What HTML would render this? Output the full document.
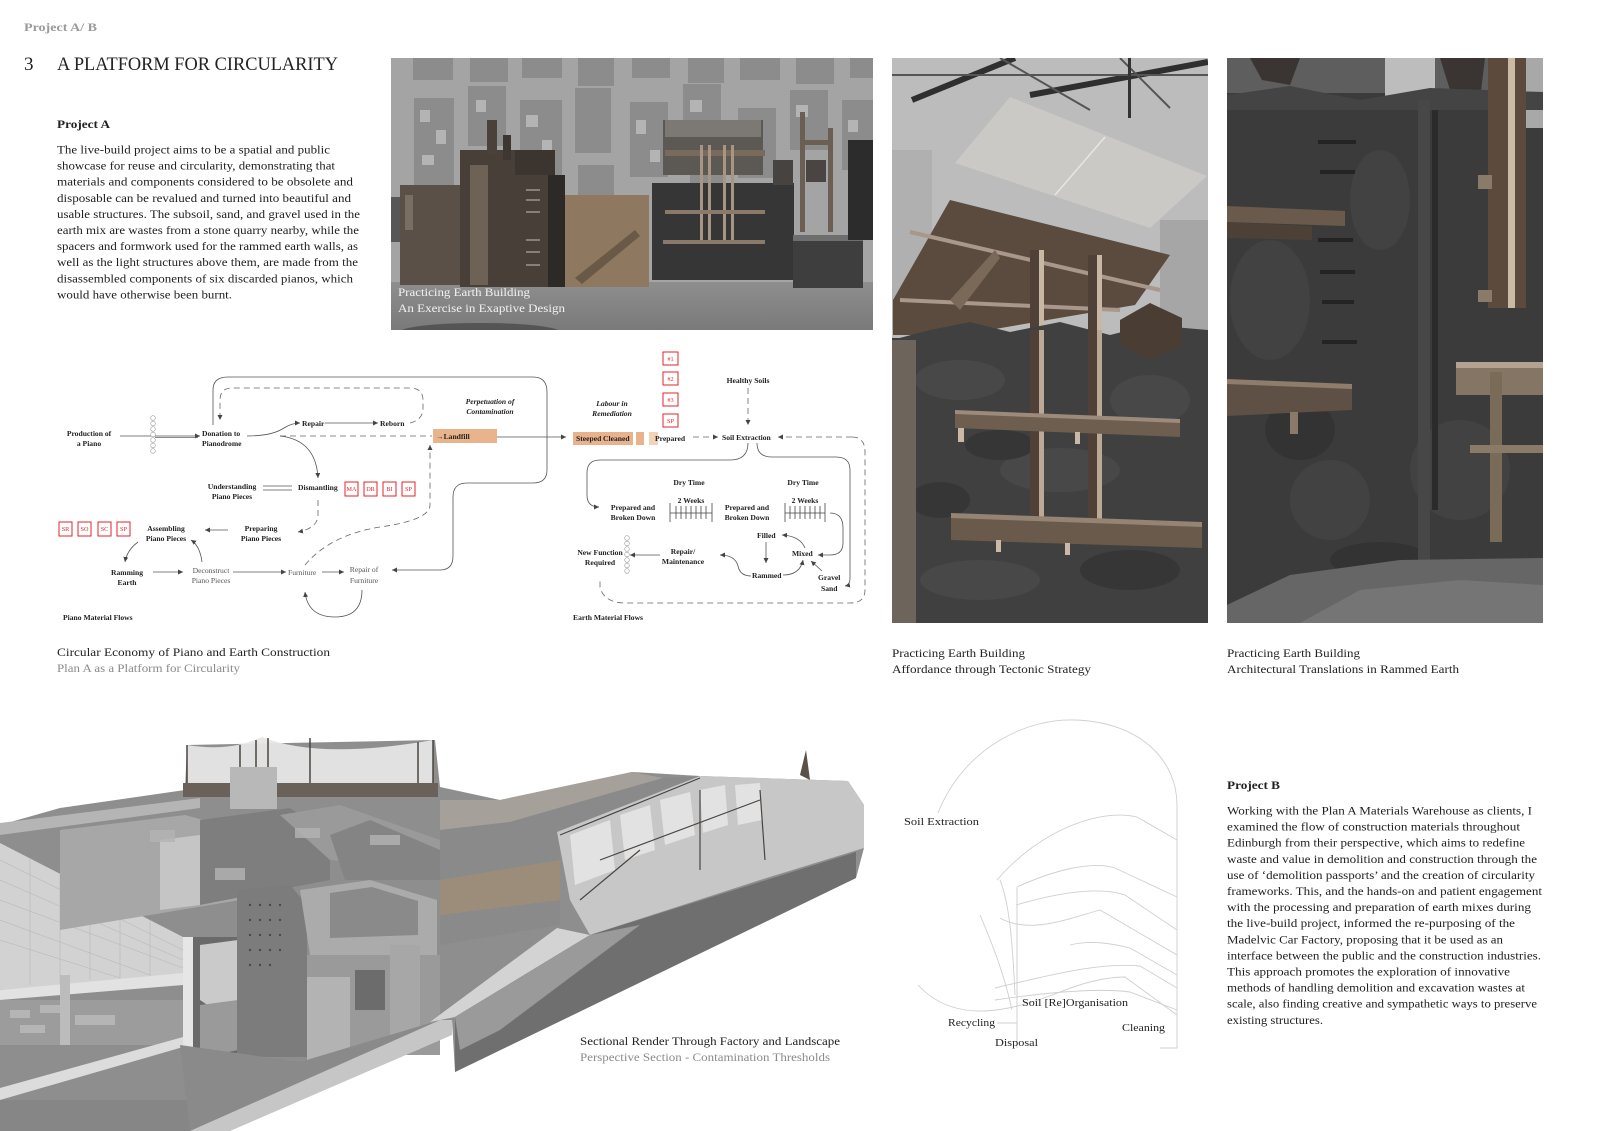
<!DOCTYPE html>
<html><head><meta charset="utf-8"><style>
html,body{margin:0;padding:0;background:#fff;}
svg{display:block;}
text{font-family:"Liberation Serif",serif;}
.b{fill:#1e1e1e;font-size:11.5px;}
.d{font-size:7.6px;font-weight:bold;fill:#222;}
.dg{font-size:7.6px;fill:#555;}
.di{font-size:7.6px;font-style:italic;font-weight:bold;fill:#222;}
.r{font-size:6.2px;fill:#e0262b;}
.ln{fill:none;stroke:#555;stroke-width:0.8;}
.dl{fill:none;stroke:#666;stroke-width:0.8;stroke-dasharray:6 4;}
.rb{fill:#fff;stroke:#e0262b;stroke-width:1;}
.lg{fill:none;stroke:#cfcfcf;stroke-width:0.9;}
.cap{font-size:12px;fill:#222;}
.capg{font-size:12px;fill:#8a8a8a;}
</style></head><body>
<svg width="1600" height="1131" viewBox="0 0 1600 1131" xmlns="http://www.w3.org/2000/svg">
<defs>
<marker id="a" markerWidth="5" markerHeight="5" refX="5" refY="2.5" orient="auto" markerUnits="userSpaceOnUse"><path d="M0,0 L5,2.5 L0,5 z" fill="#444"/></marker>
<linearGradient id="fl" x1="0" y1="0" x2="0" y2="1"><stop offset="0" stop-color="#8e8e8e"/><stop offset="1" stop-color="#7a7a7a"/></linearGradient>
<clipPath id="c1"><rect x="391" y="58" width="482" height="272"/></clipPath>
<clipPath id="c2"><rect x="892" y="58" width="316" height="565"/></clipPath>
<clipPath id="c3"><rect x="1227" y="58" width="316" height="565"/></clipPath>
</defs>

<!-- HEADER -->
<text x="24" y="31" font-size="11.5" font-weight="bold" fill="#9a9a9a" textLength="73" lengthAdjust="spacingAndGlyphs">Project A/ B</text>
<text x="24" y="70" font-size="19" fill="#222">3</text>
<text x="57" y="70" font-size="19" fill="#222" textLength="281" lengthAdjust="spacingAndGlyphs">A PLATFORM FOR CIRCULARITY</text>

<text x="57" y="128" font-size="12" font-weight="bold" fill="#222" textLength="53" lengthAdjust="spacingAndGlyphs">Project A</text>
<g class="b">
<text x="57" y="153.5" textLength="273" lengthAdjust="spacingAndGlyphs">The live-build project aims to be a spatial and public</text>
<text x="57" y="169.6" textLength="278" lengthAdjust="spacingAndGlyphs">showcase for reuse and circularity, demonstrating that</text>
<text x="57" y="185.7" textLength="296" lengthAdjust="spacingAndGlyphs">materials and components considered to be obsolete and</text>
<text x="57" y="201.8" textLength="294" lengthAdjust="spacingAndGlyphs">disposable can be revalued and turned into beautiful and</text>
<text x="57" y="217.9" textLength="303" lengthAdjust="spacingAndGlyphs">usable structures. The subsoil, sand, and gravel used in the</text>
<text x="57" y="234" textLength="302" lengthAdjust="spacingAndGlyphs">earth mix are wastes from a stone quarry nearby, while the</text>
<text x="57" y="250.1" textLength="301" lengthAdjust="spacingAndGlyphs">spacers and formwork used for the rammed earth walls, as</text>
<text x="57" y="266.2" textLength="301" lengthAdjust="spacingAndGlyphs">well as the light structures above them, are made from the</text>
<text x="57" y="282.3" textLength="296" lengthAdjust="spacingAndGlyphs">disassembled components of six discarded pianos, which</text>
<text x="57" y="298.4" textLength="175" lengthAdjust="spacingAndGlyphs">would have otherwise been burnt.</text>
</g>

<!-- PHOTO 1 -->
<g clip-path="url(#c1)">
<rect x="391" y="58" width="482" height="272" fill="#a4a4a4"/>
<g fill="#8c8c8c">
<rect x="413" y="58" width="40" height="22"/><rect x="470" y="58" width="38" height="24"/><rect x="522" y="58" width="40" height="20"/><rect x="578" y="58" width="36" height="28"/><rect x="632" y="58" width="38" height="20"/><rect x="688" y="58" width="36" height="25"/><rect x="740" y="58" width="40" height="22"/><rect x="796" y="58" width="38" height="26"/><rect x="850" y="58" width="23" height="20"/>
<rect x="414" y="98" width="40" height="92"/><rect x="468" y="86" width="38" height="60"/><rect x="520" y="100" width="42" height="80"/><rect x="575" y="88" width="36" height="65"/><rect x="630" y="102" width="38" height="75"/><rect x="683" y="84" width="38" height="62"/><rect x="738" y="108" width="38" height="70"/><rect x="790" y="90" width="38" height="60"/><rect x="842" y="100" width="31" height="70"/>
<rect x="470" y="158" width="40" height="45"/><rect x="578" y="165" width="36" height="35"/><rect x="690" y="160" width="36" height="35"/>
</g>
<g fill="#b4b4b4">
<rect x="420" y="110" width="10" height="12"/><rect x="436" y="130" width="10" height="14"/><rect x="422" y="155" width="12" height="10"/><rect x="526" y="115" width="12" height="12"/><rect x="542" y="140" width="10" height="12"/><rect x="636" y="120" width="10" height="14"/><rect x="650" y="150" width="10" height="12"/><rect x="476" y="100" width="10" height="12"/><rect x="690" y="100" width="12" height="12"/><rect x="796" y="105" width="12" height="12"/><rect x="745" y="125" width="12" height="12"/><rect x="848" y="120" width="10" height="12"/>
</g>
<rect x="391" y="197" width="80" height="45" fill="#575757"/>
<rect x="391" y="282" width="482" height="48" fill="url(#fl)"/>
<ellipse cx="480" cy="332" rx="80" ry="9" fill="#555"/>
<rect x="400" y="185" width="60" height="100" fill="#5a5048"/>
<rect x="405" y="195" width="8" height="35" fill="#7a6e62"/>
<rect x="460" y="150" width="90" height="137" fill="#473f38"/>
<rect x="470" y="165" width="18" height="120" fill="#6e6256"/>
<rect x="487" y="120" width="10" height="35" fill="#4a413a"/><rect x="503" y="135" width="8" height="25" fill="#3e3630"/><rect x="515" y="150" width="40" height="25" fill="#3b342f"/>
<g stroke="#c9c0b5" stroke-width="1"><line x1="526" y1="190" x2="540" y2="190"/><line x1="526" y1="200" x2="540" y2="200"/><line x1="526" y1="212" x2="540" y2="212"/><line x1="526" y1="240" x2="540" y2="240"/><line x1="526" y1="252" x2="540" y2="252"/><line x1="526" y1="265" x2="540" y2="265"/></g>
<rect x="548" y="175" width="17" height="112" fill="#2d2926"/>
<rect x="565" y="195" width="84" height="92" fill="#8e7860"/>
<path d="M575,278 L635,230 L640,236 L582,284 z" fill="#6b5947"/>
<rect x="652" y="183" width="142" height="97" fill="#363636"/>
<rect x="663" y="120" width="100" height="55" fill="#5c5854"/>
<rect x="665" y="120" width="96" height="17" fill="#7c7874"/>
<rect x="665" y="150" width="100" height="6" fill="#7a6a5c"/>
<g fill="#a99682"><rect x="700" y="145" width="3" height="97"/><rect x="708" y="145" width="3" height="97"/><rect x="723" y="145" width="3" height="97"/><rect x="731" y="145" width="3" height="97"/></g>
<rect x="665" y="210" width="100" height="4" fill="#8a7a6a"/>
<rect x="663" y="240" width="102" height="4" fill="#8a7a6a"/>
<rect x="773" y="160" width="20" height="25" fill="#474340"/>
<g fill="#6b5e52"><rect x="800" y="112" width="5" height="120"/><rect x="828" y="128" width="5" height="104"/><rect x="800" y="140" width="33" height="5"/></g>
<rect x="806" y="160" width="20" height="22" fill="#4a4542"/>
<rect x="793" y="238" width="70" height="50" fill="#3e3e3e"/>
<rect x="793" y="235" width="70" height="6" fill="#6e6e6e"/>
<rect x="848" y="140" width="25" height="100" fill="#2c2c2c"/>
<text x="398" y="296" font-size="11.5" fill="#f2f2f2" textLength="132" lengthAdjust="spacingAndGlyphs">Practicing Earth Building</text>
<text x="398" y="312" font-size="11.5" fill="#f2f2f2" textLength="167" lengthAdjust="spacingAndGlyphs">An Exercise in Exaptive Design</text>
</g>

<!-- PHOTO 2 -->
<g clip-path="url(#c2)">
<rect x="892" y="58" width="316" height="565" fill="#3e3e3e"/>
<rect x="892" y="58" width="316" height="280" fill="#bcbcbc"/>
<rect x="892" y="150" width="40" height="180" fill="#b0b0b0"/>
<g stroke="#2f2f2f" stroke-width="6"><line x1="912" y1="100" x2="1015" y2="58"/><line x1="1030" y1="95" x2="1208" y2="62"/></g>
<g stroke="#555" stroke-width="2"><line x1="892" y1="75" x2="1208" y2="75"/><line x1="1000" y1="58" x2="1090" y2="110"/><line x1="1120" y1="58" x2="1170" y2="108"/></g>
<rect x="1128" y="58" width="3" height="60" fill="#333"/>
<path d="M1010,97 L1207,176 L1150,228 L955,163 z" fill="#cbc9c5"/>
<line x1="1105" y1="137" x2="1055" y2="195" stroke="#e6e6e6" stroke-width="1.5"/>
<rect x="1160" y="220" width="48" height="110" fill="#a6a6a6"/>
<path d="M893,300 L950,200 L1170,255 L1135,305 L960,335 L893,335 z" fill="#5b4b3e"/>
<g stroke="#a8978a" stroke-width="4"><line x1="910" y1="232" x2="1160" y2="290"/><line x1="900" y1="300" x2="1120" y2="310"/></g>
<path d="M950,300 L995,250 L1000,258 L960,310 z" fill="#7a6858"/>
<g><rect x="1030" y="250" width="9" height="265" fill="#4f4137"/><rect x="1039" y="250" width="5" height="265" fill="#c7b7a4"/><rect x="1088" y="255" width="9" height="260" fill="#4f4137"/><rect x="1097" y="255" width="5" height="260" fill="#c7b7a4"/></g>
<path d="M892,340 L930,330 L970,322 L1010,332 L1060,322 L1110,335 L1150,325 L1208,330 L1208,623 L892,623 z" fill="#404040"/>
<g fill="#484848"><ellipse cx="960" cy="380" rx="45" ry="20"/><ellipse cx="1150" cy="400" rx="40" ry="25"/><ellipse cx="1060" cy="470" rx="60" ry="22"/><ellipse cx="980" cy="580" rx="60" ry="20"/></g>
<g fill="#363636"><ellipse cx="1000" cy="445" rx="35" ry="15"/><ellipse cx="1130" cy="570" rx="50" ry="20"/><ellipse cx="940" cy="500" rx="30" ry="18"/></g>
<rect x="1030" y="330" width="9" height="190" fill="#4f4137"/><rect x="1039" y="330" width="5" height="190" fill="#bba995"/>
<rect x="1088" y="330" width="9" height="190" fill="#4f4137"/><rect x="1097" y="330" width="5" height="190" fill="#bba995"/>
<path d="M1120,320 L1150,303 L1182,318 L1182,345 L1150,360 L1120,345 z" fill="#4a3d34"/>
<rect x="892" y="340" width="24" height="283" fill="#6d645b"/>
<path d="M955,412 L1180,421 L1180,437 L955,428 z" fill="#6e5e50"/>
<path d="M955,410 L1180,419 L1180,423 L955,414 z" fill="#9c8b7b"/>
<rect x="958" y="428" width="6" height="14" fill="#c9b9a6"/><rect x="1075" y="432" width="5" height="12" fill="#c9b9a6"/>
<path d="M951,515 L1202,524 L1202,548 L951,540 z" fill="#6a5a4c"/>
<path d="M951,513 L1202,522 L1202,527 L951,518 z" fill="#958474"/>
<rect x="996" y="540" width="5" height="12" fill="#c9b9a6"/><rect x="1065" y="543" width="5" height="12" fill="#c9b9a6"/>
</g>

<!-- PHOTO 3 -->
<g clip-path="url(#c3)">
<rect x="1227" y="58" width="316" height="565" fill="#3b3b3b"/>
<rect x="1227" y="58" width="316" height="35" fill="#5e5e5e"/>
<rect x="1385" y="58" width="50" height="42" fill="#bdbdbd"/>
<rect x="1525" y="58" width="18" height="70" fill="#a8a8a8"/>
<path d="M1250,58 L1300,58 L1290,85 L1262,80 z" fill="#3a3532"/>
<path d="M1440,58 L1485,58 L1480,100 L1450,90 z" fill="#3a3532"/>
<path d="M1227,95 L1290,86 L1360,100 L1430,88 L1543,92 L1543,110 L1227,110 z" fill="#444"/>
<g fill="#424242"><ellipse cx="1270" cy="300" rx="40" ry="60"/><ellipse cx="1460" cy="470" rx="50" ry="50"/><ellipse cx="1330" cy="500" rx="40" ry="40"/><ellipse cx="1380" cy="200" rx="30" ry="50"/></g>
<g fill="#333"><ellipse cx="1300" cy="430" rx="35" ry="30"/><ellipse cx="1380" cy="560" rx="50" ry="18"/></g>
<rect x="1418" y="100" width="12" height="460" fill="#474747"/>
<rect x="1432" y="110" width="6" height="400" fill="#2b2b2b"/>
<g fill="#242424"><rect x="1318" y="140" width="38" height="4"/><rect x="1320" y="170" width="35" height="4"/><rect x="1320" y="270" width="35" height="4"/><rect x="1322" y="300" width="32" height="4"/><rect x="1322" y="340" width="35" height="4"/><rect x="1318" y="238" width="35" height="4"/></g>
<rect x="1488" y="58" width="38" height="250" fill="#5c4b3d"/>
<rect x="1508" y="58" width="7" height="250" fill="#cbbba5"/>
<rect x="1478" y="175" width="14" height="14" fill="#8a7a6a"/><rect x="1478" y="290" width="14" height="12" fill="#8a7a6a"/>
<path d="M1227,206 L1345,211 L1345,226 L1227,222 z" fill="#6a5a4c"/>
<path d="M1227,222 L1312,226 L1312,240 L1227,238 z" fill="#4d4037"/>
<path d="M1227,381 L1352,386 L1352,410 L1227,416 z" fill="#5e5044"/>
<path d="M1227,379 L1352,384 L1352,389 L1227,384 z" fill="#8e7d6c"/>
<rect x="1290" y="412" width="8" height="22" fill="#8b7a69"/>
<rect x="1456" y="365" width="89" height="30" fill="#857565"/>
<rect x="1456" y="362" width="89" height="6" fill="#b3a28f"/>
<rect x="1490" y="372" width="12" height="170" fill="#7a6a58"/>
<rect x="1470" y="445" width="75" height="8" fill="#8a7a68"/>
<path d="M1227,605 L1290,575 L1400,560 L1543,558 L1543,623 L1227,623 z" fill="#666"/>
<path d="M1300,623 L1360,590 L1460,580 L1543,585 L1543,623 z" fill="#757575"/>
</g>

<!-- PHOTO CAPTIONS -->
<text class="cap" x="892" y="657" textLength="133" lengthAdjust="spacingAndGlyphs">Practicing Earth Building</text>
<text class="cap" x="892" y="673" textLength="199" lengthAdjust="spacingAndGlyphs">Affordance through Tectonic Strategy</text>
<text class="cap" x="1227" y="657" textLength="133" lengthAdjust="spacingAndGlyphs">Practicing Earth Building</text>
<text class="cap" x="1227" y="673" textLength="232" lengthAdjust="spacingAndGlyphs">Architectural Translations in Rammed Earth</text>

<!-- PIANO DIAGRAM -->
<g>
<text class="d" x="89" y="436" text-anchor="middle">Production of</text>
<text class="d" x="89" y="446" text-anchor="middle">a Piano</text>
<line class="ln" x1="120" y1="436" x2="200" y2="436" marker-end="url(#a)"/>
<line x1="155" y1="437.5" x2="198" y2="437.5" stroke="#666" stroke-width="0.8"/>
<g fill="#fff" stroke="#999" stroke-width="0.6"><circle cx="153" cy="418" r="2.3"/><circle cx="153" cy="423.5" r="2.3"/><circle cx="153" cy="429" r="2.3"/><circle cx="153" cy="434.5" r="2.3"/><circle cx="153" cy="440" r="2.3"/><circle cx="153" cy="445.5" r="2.3"/><circle cx="153" cy="451" r="2.3"/></g>
<text class="d" x="202" y="436">Donation to</text>
<text class="d" x="202" y="446">Pianodrome</text>
<path class="ln" d="M213,425 V390 Q213,377 228,377 H533 Q547,377 547,392 V470 Q547,483 533,483 H467 Q453,483 453,497 V556 Q453,570 440,570 H392" marker-end="url(#a)"/>
<path class="dl" d="M410,423 Q423,420 423,408 V400 Q423,388 410,388 H232 Q220,388 220,400 V420" marker-end="url(#a)"/>
<path class="ln" d="M247,436 Q272,436 284,428 Q292,423 300,423" marker-end="url(#a)"/>
<text class="d" x="302" y="426">Repair</text>
<line class="ln" x1="325" y1="423" x2="378" y2="423" marker-end="url(#a)"/>
<text class="d" x="380" y="426">Reborn</text>
<line class="dl" x1="280" y1="436" x2="432" y2="436"/>
<path class="ln" d="M280,436 Q316,440 318,478" marker-end="url(#a)"/>
<rect x="433" y="429" width="64" height="14" fill="#e9b48b"/>
<text class="d" x="436" y="439">→Landfill</text>
<text class="di" x="490" y="404" text-anchor="middle">Perpetuation of</text>
<text class="di" x="490" y="414" text-anchor="middle">Contamination</text>
<text class="d" x="232" y="489" text-anchor="middle">Understanding</text>
<text class="d" x="232" y="499" text-anchor="middle">Piano Pieces</text>
<line class="ln" x1="263" y1="486" x2="292" y2="486"/><line class="ln" x1="263" y1="490" x2="292" y2="490"/>
<text class="d" x="298" y="490">Dismantling</text>
<rect class="rb" x="345" y="482" width="13" height="14"/><rect class="rb" x="364" y="482" width="13" height="14"/><rect class="rb" x="383" y="482" width="13" height="14"/><rect class="rb" x="402" y="482" width="13" height="14"/>
<text class="r" x="351.5" y="491" text-anchor="middle">MA</text><text class="r" x="370.5" y="491" text-anchor="middle">DR</text><text class="r" x="389.5" y="491" text-anchor="middle">BI</text><text class="r" x="408.5" y="491" text-anchor="middle">SP</text>
<path class="dl" d="M318,500 V515 Q318,528 298,532" marker-end="url(#a)"/>
<text class="d" x="261" y="531" text-anchor="middle">Preparing</text>
<text class="d" x="261" y="541" text-anchor="middle">Piano Pieces</text>
<line class="ln" x1="228" y1="530" x2="205" y2="530" marker-end="url(#a)"/>
<text class="d" x="166" y="531" text-anchor="middle">Assembling</text>
<text class="d" x="166" y="541" text-anchor="middle">Piano Pieces</text>
<rect class="rb" x="59" y="522" width="13" height="14"/><rect class="rb" x="78" y="522" width="13" height="14"/><rect class="rb" x="98" y="522" width="13" height="14"/><rect class="rb" x="117" y="522" width="13" height="14"/>
<text class="r" x="65.5" y="531" text-anchor="middle">SR</text><text class="r" x="84.5" y="531" text-anchor="middle">SO</text><text class="r" x="104.5" y="531" text-anchor="middle">SC</text><text class="r" x="123.5" y="531" text-anchor="middle">SP</text>
<path class="ln" d="M138,542 Q127,550 125,562" marker-end="url(#a)"/>
<text class="d" x="127" y="575" text-anchor="middle">Ramming</text>
<text class="d" x="127" y="585" text-anchor="middle">Earth</text>
<line class="ln" x1="153" y1="572" x2="183" y2="572" marker-end="url(#a)"/>
<text class="dg" x="211" y="573" text-anchor="middle">Deconstruct</text>
<text class="dg" x="211" y="583" text-anchor="middle">Piano Pieces</text>
<path class="ln" d="M202,562 Q200,546 191,540" marker-end="url(#a)"/>
<line class="ln" x1="233" y1="572" x2="286" y2="572" marker-end="url(#a)"/>
<text class="dg" x="288" y="575">Furniture</text>
<line class="ln" x1="322" y1="572" x2="344" y2="572" marker-end="url(#a)"/>
<text class="dg" x="364" y="572" text-anchor="middle">Repair of</text>
<text class="dg" x="364" y="583" text-anchor="middle">Furniture</text>
<path class="ln" d="M362,590 Q362,617 335,617 Q308,617 305,592" marker-end="url(#a)"/>
<path class="dl" d="M305,565 Q330,535 380,527 Q430,520 430,505 V445" marker-end="url(#a)"/>
<text class="d" x="63" y="620">Piano Material Flows</text>
</g>

<!-- EARTH DIAGRAM -->
<g>
<line class="ln" x1="497" y1="437" x2="566" y2="437" marker-end="url(#a)"/>
<text class="di" x="612" y="406" text-anchor="middle">Labour in</text>
<text class="di" x="612" y="416" text-anchor="middle">Remediation</text>
<rect x="573" y="432" width="60" height="13" fill="#e8b38c"/>
<rect x="636" y="432" width="8" height="13" fill="#e8b38c"/>
<rect x="649" y="432" width="9" height="13" fill="#f2d3b8"/>
<text class="d" x="576" y="441">Steeped</text>
<text class="d" x="603" y="441">Cleaned</text>
<text class="d" x="655" y="441">Prepared</text>
<rect class="rb" x="663" y="352" width="15" height="13"/><rect class="rb" x="663" y="372" width="15" height="13"/><rect class="rb" x="663" y="393" width="15" height="13"/><rect class="rb" x="663" y="414" width="15" height="13"/>
<text class="r" x="670.5" y="361" text-anchor="middle">#1</text><text class="r" x="670.5" y="381" text-anchor="middle">#2</text><text class="r" x="670.5" y="402" text-anchor="middle">#3</text><text class="r" x="670.5" y="423" text-anchor="middle">SP</text>
<line class="dl" x1="693" y1="437" x2="718" y2="437" marker-end="url(#a)"/>
<text class="d" x="722" y="440">Soil Extraction</text>
<path class="dl" d="M852,437 H778" marker-end="url(#a)"/>
<path class="dl" d="M852,437 Q865,437 865,452 V590 Q865,603 850,603 H625 Q605,603 600,588 V578"/>
<text class="d" x="748" y="383" text-anchor="middle">Healthy Soils</text>
<line class="dl" x1="748" y1="388" x2="748" y2="425" marker-end="url(#a)"/>
<path class="ln" d="M748,443 Q748,460 730,460 H600 Q587,460 587,473 V495 Q587,507 599,507" marker-end="url(#a)"/>
<path class="ln" d="M757,443 Q757,457 772,457 H836 Q850,457 850,470 V578 Q850,585 845,586" marker-end="url(#a)"/>
<text class="d" x="633" y="510" text-anchor="middle">Prepared and</text>
<text class="d" x="633" y="520" text-anchor="middle">Broken Down</text>
<text class="d" x="689" y="485" text-anchor="middle">Dry Time</text>
<text class="d" x="691" y="503" text-anchor="middle">2 Weeks</text>
<g stroke="#444" stroke-width="0.8"><line x1="670" y1="513" x2="712" y2="513"/><line x1="670" y1="503" x2="670" y2="522"/><line x1="712" y1="503" x2="712" y2="522"/><line x1="676" y1="506" x2="676" y2="519"/><line x1="681" y1="506" x2="681" y2="519"/><line x1="686" y1="506" x2="686" y2="519"/><line x1="691" y1="506" x2="691" y2="519"/><line x1="696" y1="506" x2="696" y2="519"/><line x1="701" y1="506" x2="701" y2="519"/><line x1="706" y1="506" x2="706" y2="519"/></g>
<text class="d" x="747" y="510" text-anchor="middle">Prepared and</text>
<text class="d" x="747" y="520" text-anchor="middle">Broken Down</text>
<text class="d" x="803" y="485" text-anchor="middle">Dry Time</text>
<text class="d" x="805" y="503" text-anchor="middle">2 Weeks</text>
<g stroke="#444" stroke-width="0.8"><line x1="785" y1="513" x2="825" y2="513"/><line x1="785" y1="503" x2="785" y2="522"/><line x1="825" y1="503" x2="825" y2="522"/><line x1="790" y1="506" x2="790" y2="519"/><line x1="795" y1="506" x2="795" y2="519"/><line x1="800" y1="506" x2="800" y2="519"/><line x1="805" y1="506" x2="805" y2="519"/><line x1="810" y1="506" x2="810" y2="519"/><line x1="815" y1="506" x2="815" y2="519"/><line x1="820" y1="506" x2="820" y2="519"/></g>
<path class="ln" d="M830,513 Q843,513 843,528 V543 Q843,555 830,555 H818" marker-end="url(#a)"/>
<text class="d" x="792" y="556">Mixed</text>
<text class="d" x="757" y="538">Filled</text>
<path class="ln" d="M805,548 Q800,536 782,535" marker-end="url(#a)"/>
<line class="ln" x1="766" y1="542" x2="766" y2="563" marker-end="url(#a)"/>
<text class="d" x="752" y="578">Rammed</text>
<path class="ln" d="M783,575 Q800,575 803,560" marker-end="url(#a)"/>
<text class="d" x="818" y="580">Gravel</text>
<text class="d" x="821" y="591">Sand</text>
<line class="ln" x1="822" y1="571" x2="811" y2="561" marker-end="url(#a)"/>
<path class="ln" d="M751,576 Q740,576 738,566 Q735,555 720,555" marker-end="url(#a)"/>
<text class="d" x="683" y="554" text-anchor="middle">Repair/</text>
<text class="d" x="683" y="564" text-anchor="middle">Maintenance</text>
<line class="ln" x1="660" y1="555" x2="630" y2="555" marker-end="url(#a)"/>
<g fill="#fff" stroke="#999" stroke-width="0.6"><circle cx="627" cy="538" r="2.3"/><circle cx="627" cy="543.5" r="2.3"/><circle cx="627" cy="549" r="2.3"/><circle cx="627" cy="554.5" r="2.3"/><circle cx="627" cy="560" r="2.3"/><circle cx="627" cy="565.5" r="2.3"/><circle cx="627" cy="571" r="2.3"/></g>
<text class="d" x="600" y="555" text-anchor="middle">New Function</text>
<text class="d" x="600" y="565" text-anchor="middle">Required</text>
<text class="d" x="573" y="620">Earth Material Flows</text>
</g>

<text class="cap" x="57" y="656" textLength="273" lengthAdjust="spacingAndGlyphs">Circular Economy of Piano and Earth Construction</text>
<text class="capg" x="57" y="672" textLength="183" lengthAdjust="spacingAndGlyphs">Plan A as a Platform for Circularity</text>

<!-- RENDER -->
<g>
<path d="M0,825 L60,808 L185,790 L187,745 L435,740 L440,787 L500,800 L632,772 L700,776 L848,781 L864,805 L864,848 L856,878 L455,1072 L452,1020 L440,1020 L190,1131 L0,1131 z" fill="#8e8e8e"/>
<path d="M187,745 Q230,752 262,737 Q320,760 433,740 L433,788 L187,788 z" fill="#e6e6e6" opacity="0.95"/>
<g stroke="#4a4440" stroke-width="1.5"><line x1="187" y1="745" x2="187" y2="795"/><line x1="240" y1="745" x2="240" y2="785"/><line x1="256" y1="740" x2="256" y2="785"/><line x1="268" y1="738" x2="268" y2="785"/><line x1="310" y1="738" x2="310" y2="785"/><line x1="418" y1="742" x2="418" y2="785"/><line x1="433" y1="740" x2="433" y2="790"/></g>
<rect x="183" y="783" width="255" height="14" fill="#6a625a"/>
<rect x="230" y="767" width="47" height="42" fill="#b8b8b8"/>
<path d="M0,823 L200,798 L200,808 L0,835 z" fill="#b5b5b5"/>
<path d="M0,843 L183,937 L183,975 L0,990 z" fill="#d2d2d2"/>
<g stroke="#b9b9b9" stroke-width="0.6"><line x1="0" y1="860" x2="183" y2="950"/><line x1="0" y1="880" x2="183" y2="960"/><line x1="0" y1="900" x2="183" y2="968"/><line x1="0" y1="920" x2="150" y2="975"/><line x1="0" y1="940" x2="120" y2="978"/><line x1="30" y1="858" x2="30" y2="985"/><line x1="60" y1="873" x2="60" y2="983"/><line x1="90" y1="889" x2="90" y2="980"/><line x1="120" y1="904" x2="120" y2="978"/><line x1="150" y1="920" x2="150" y2="976"/></g>
<path d="M0,990 L183,973 L183,985 L0,1000 z" fill="#e2e2e2"/>
<rect x="0" y="1000" width="183" height="45" fill="#9c9c9c"/>
<g fill="#b5b5b5"><rect x="10" y="1010" width="20" height="8"/><rect x="40" y="1005" width="22" height="8"/><rect x="20" y="1025" width="25" height="8"/><rect x="75" y="1015" width="40" height="10"/></g>
<path d="M0,1088 L183,1037 L190,1045 L0,1100 z" fill="#dcdcdc"/>
<rect x="60" y="975" width="10" height="70" fill="#bcbcbc"/>
<path d="M60,830 L185,815 L240,830 L240,900 L60,930 z" fill="#a7a7a7"/>
<path d="M160,840 L200,835 L200,905 L160,910 z" fill="#c5c5c5"/>
<path d="M200,820 L290,808 L330,835 L330,880 L200,905 z" fill="#7e7e7e"/>
<path d="M280,815 L340,805 L440,840 L440,870 L330,860 z" fill="#9a9a9a"/>
<path d="M330,835 L370,820 L440,850 L440,880 L345,880 z" fill="#848484"/>
<g fill="#b4b4b4" opacity="0.8"><rect x="150" y="830" width="25" height="12"/><rect x="215" y="868" width="30" height="12"/><rect x="295" y="828" width="25" height="10"/><rect x="370" y="835" width="30" height="10"/></g>
<rect x="183" y="937" width="10" height="126" fill="#e6e6e6"/>
<rect x="193" y="937" width="45" height="126" fill="#6a6a6a"/>
<path d="M200,945 L238,940 L238,1000 L215,1010 L200,1000 z" fill="#cacaca"/>
<path d="M200,1005 L238,1000 L238,1050 L200,1058 z" fill="#9a9a9a"/>
<path d="M237,890 L290,885 L307,905 L307,1057 L237,1057 z" fill="#7c7c7c"/>
<g fill="#4a4a4a"><circle cx="250" cy="905" r="1.2"/><circle cx="260" cy="905" r="1.2"/><circle cx="270" cy="905" r="1.2"/><circle cx="280" cy="905" r="1.2"/><circle cx="250" cy="920" r="1.2"/><circle cx="260" cy="920" r="1.2"/><circle cx="270" cy="920" r="1.2"/><circle cx="280" cy="920" r="1.2"/><circle cx="250" cy="935" r="1.2"/><circle cx="260" cy="935" r="1.2"/><circle cx="270" cy="935" r="1.2"/><circle cx="280" cy="935" r="1.2"/><circle cx="250" cy="950" r="1.2"/><circle cx="260" cy="950" r="1.2"/><circle cx="270" cy="950" r="1.2"/><circle cx="280" cy="950" r="1.2"/><circle cx="250" cy="965" r="1.2"/><circle cx="260" cy="965" r="1.2"/><circle cx="270" cy="965" r="1.2"/></g>
<path d="M300,890 L370,880 L437,900 L437,955 L310,955 z" fill="#ababab"/>
<path d="M330,893 L372,887 L418,901 L418,935 L330,938 z" fill="#8a8a8a"/>
<rect x="307" y="955" width="133" height="100" fill="#9a9a9a"/>
<rect x="307" y="977" width="43" height="90" fill="#b3b3b3"/>
<rect x="390" y="945" width="30" height="105" fill="#a7a7a7"/>
<rect x="355" y="970" width="30" height="40" fill="#6c6c6c"/>
<rect x="0" y="1100" width="190" height="31" fill="#868686"/>
<path d="M190,1131 L440,1020 L452,1020 L452,1035 L230,1131 z" fill="#c6c6c6"/>
<path d="M180,1045 L300,1062 L440,1020 L190,1131 z" fill="#8a8a8a"/>
<path d="M440,800 L500,800 L632,772 L663,778 L510,822 L440,830 z" fill="#a6a09a"/>
<path d="M440,830 L510,822 L663,778 L700,776 L560,830 L560,925 L440,945 z" fill="#8a8a8a"/>
<path d="M440,880 L560,860 L560,900 L440,915 z" fill="#9b8d7a"/>
<path d="M557,832 L700,776 L848,781 L864,805 L864,848 L760,880 L590,935 L570,900 z" fill="#c7c7c7"/>
<g fill="#e2e2e2"><path d="M570,835 L610,820 L615,870 L575,885 z"/><path d="M620,815 L650,805 L655,850 L625,860 z"/><path d="M660,800 L690,792 L695,835 L665,845 z"/><path d="M700,790 L725,785 L728,825 L703,833 z"/><path d="M735,785 L760,783 L762,820 L738,825 z"/></g>
<g stroke="#4a4440" stroke-width="1.2"><line x1="560" y1="835" x2="700" y2="778"/><line x1="600" y1="860" x2="760" y2="800"/><line x1="580" y1="900" x2="640" y2="850"/><line x1="700" y1="790" x2="700" y2="870"/><line x1="760" y1="790" x2="765" y2="860"/></g>
<path d="M800,775 L806,750 L810,780 z" fill="#5a524a"/>
<path d="M430,1022 L557,928 L590,935 L455,1017 z" fill="#d3d3d3"/>
<path d="M455,1017 L590,935 L856,852 L856,878 L455,1072 z" fill="#6f6f6f"/>
<path d="M455,1017 L590,935 L640,925 L500,1030 L460,1050 z" fill="#9a9a9a"/>
</g>
<text class="cap" x="580" y="1045" textLength="260" lengthAdjust="spacingAndGlyphs">Sectional Render Through Factory and Landscape</text>
<text class="capg" x="580" y="1061" textLength="250" lengthAdjust="spacingAndGlyphs">Perspective Section - Contamination Thresholds</text>

<!-- SOIL DIAGRAM -->
<g>
<path class="lg" d="M938,813 C965,745 1030,718 1075,720 C1140,722 1177,760 1177,805 V1048 H1160"/>
<path class="lg" d="M997,880 C1040,830 1100,808 1137,817 L1177,840"/>
<path class="lg" d="M1017,887 C1050,872 1090,860 1115,868 L1177,897"/>
<path class="lg" d="M1016,905 C1050,895 1095,885 1125,895 L1177,930"/>
<path class="lg" d="M1000,918 C1030,935 1070,918 1100,910 L1177,955"/>
<path class="lg" d="M1070,945 C1090,940 1110,943 1130,948 L1177,975"/>
<path class="lg" d="M995,988 C1050,975 1100,962 1140,966 L1177,988"/>
<path class="lg" d="M995,1000 C1050,992 1100,988 1130,992 L1177,1010"/>
<path class="lg" d="M918,985 C955,1025 1010,1012 1060,992 C1090,980 1110,977 1125,977 L1177,1015"/>
<path class="lg" d="M1017,887 V1048"/>
<path class="lg" d="M980,915 C995,950 1005,978 1012,1010"/>
<path class="lg" d="M1000,880 C1008,900 1012,930 1015,995"/>
<path class="lg" d="M997,1023 H1017"/>
<text x="904" y="825" font-size="11" fill="#222" textLength="75" lengthAdjust="spacingAndGlyphs">Soil Extraction</text>
<text x="1022" y="1006" font-size="11" fill="#222" textLength="106" lengthAdjust="spacingAndGlyphs">Soil [Re]Organisation</text>
<text x="948" y="1026" font-size="11" fill="#222" textLength="47" lengthAdjust="spacingAndGlyphs">Recycling</text>
<text x="1122" y="1031" font-size="11" fill="#222" textLength="43" lengthAdjust="spacingAndGlyphs">Cleaning</text>
<text x="995" y="1046" font-size="11" fill="#222" textLength="43" lengthAdjust="spacingAndGlyphs">Disposal</text>
</g>

<!-- PROJECT B -->
<text x="1227" y="789" font-size="12" font-weight="bold" fill="#222" textLength="53" lengthAdjust="spacingAndGlyphs">Project B</text>
<g class="b">
<text x="1227" y="814.5" textLength="305" lengthAdjust="spacingAndGlyphs">Working with the Plan A Materials Warehouse as clients, I</text>
<text x="1227" y="830.6" textLength="293" lengthAdjust="spacingAndGlyphs">examined the flow of construction materials throughout</text>
<text x="1227" y="846.7" textLength="298" lengthAdjust="spacingAndGlyphs">Edinburgh from their perspective, which aims to redefine</text>
<text x="1227" y="862.8" textLength="310" lengthAdjust="spacingAndGlyphs">waste and value in demolition and construction through the</text>
<text x="1227" y="878.9" textLength="308" lengthAdjust="spacingAndGlyphs">use of ‘demolition passports’ and the creation of circularity</text>
<text x="1227" y="895" textLength="315" lengthAdjust="spacingAndGlyphs">frameworks. This, and the hands-on and patient engagement</text>
<text x="1227" y="911.1" textLength="304" lengthAdjust="spacingAndGlyphs">with the processing and preparation of earth mixes during</text>
<text x="1227" y="927.2" textLength="288" lengthAdjust="spacingAndGlyphs">the live-build project, informed the re-purposing of the</text>
<text x="1227" y="943.3" textLength="276" lengthAdjust="spacingAndGlyphs">Madelvic Car Factory, proposing that it be used as an</text>
<text x="1227" y="959.4" textLength="314" lengthAdjust="spacingAndGlyphs">interface between the public and the construction industries.</text>
<text x="1227" y="975.5" textLength="283" lengthAdjust="spacingAndGlyphs">This approach promotes the exploration of innovative</text>
<text x="1227" y="991.6" textLength="298" lengthAdjust="spacingAndGlyphs">methods of handling demolition and excavation wastes at</text>
<text x="1227" y="1007.7" textLength="310" lengthAdjust="spacingAndGlyphs">scale, also finding creative and sympathetic ways to preserve</text>
<text x="1227" y="1023.8" textLength="96" lengthAdjust="spacingAndGlyphs">existing structures.</text>
</g>
</svg>
</body></html>
